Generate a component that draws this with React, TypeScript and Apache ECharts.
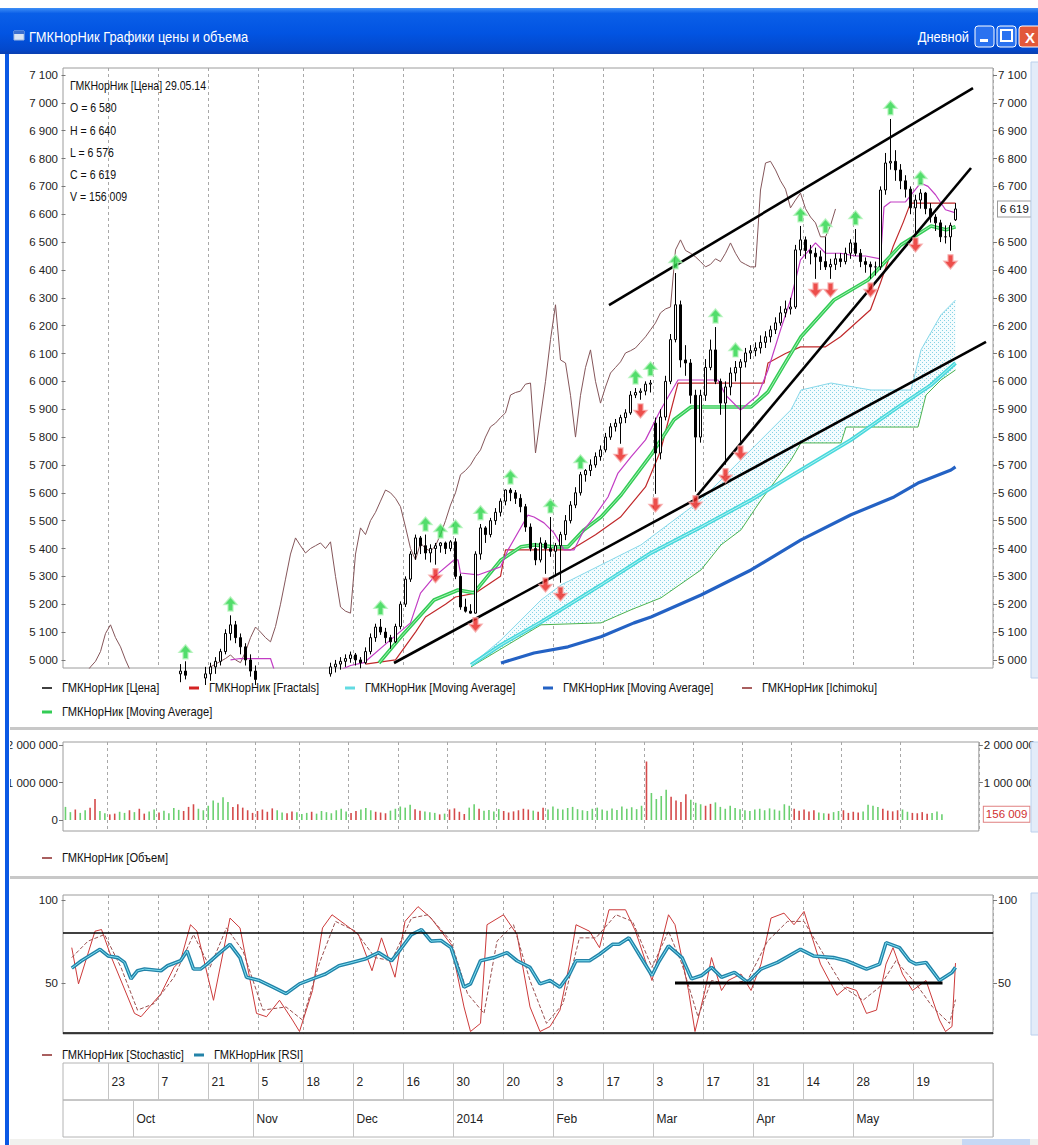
import React, { useEffect, useRef } from "react";
import * as echarts from "echarts";

const FONT = "'Liberation Sans', Arial, sans-serif";

// ---------- calendar ----------
const startDate = "2013-09-10";
const holidays = ["2013-11-04", "2013-12-31", "2014-01-01", "2014-01-02", "2014-01-07", "2014-01-08", "2014-05-01", "2014-05-02", "2014-05-09", "2014-06-12", "2014-06-13"];
const slotCount = 186;
const dayTickIdx = [9, 19, 29, 39, 48, 58, 68, 78, 88, 98, 108, 118, 128, 138, 148, 158, 170];
const monthTickIdx = [14, 38, 58, 78, 98, 118, 138, 158];
const monthNames = ["Oct", "Nov", "Dec", "2014", "Feb", "Mar", "Apr", "May"];

function buildDates() {
  const out = [];
  const d = new Date(startDate + "T00:00:00Z");
  while (out.length < slotCount) {
    const s = d.toISOString().slice(0, 10);
    const wd = d.getUTCDay();
    if (wd !== 0 && wd !== 6 && holidays.indexOf(s) < 0) out.push(s);
    d.setUTCDate(d.getUTCDate() + 1);
  }
  return out;
}

// ---------- price (OHLC) ----------
const opens = [4720,4745,4770,4750,4780,4830,4815,4760,4790,4820,4805,4780,4800,4840,4830,4860,4850,4820,4860,4890,4880,4910,4930,4950,4960,4945,4910,4900,4935,4950,4975,4995,5030,5095,5126,5080,5047,5000,4960,4930,4920,4880,4870,4840,4860,4890,4870,4840,4870,4900,4920,4910,4935,4950,4975,4985,4995,5005,5018,5000,4990,5030,5080,5118,5100,5080,5065,5120,5200,5290,5380,5438,5410,5384,5400,5410,5420,5400,5424,5300,5190,5175,5168,5380,5474,5450,5500,5530,5570,5610,5600,5580,5550,5477,5400,5359,5420,5400,5390,5410,5450,5500,5556,5600,5665,5680,5700,5730,5754,5800,5837,5850,5870,5887,5951,5960,5965,5990,5850,5743,5872,6000,6150,6275,6077,6066,5950,5800,5950,6050,6113,6000,5922,5980,6030,6050,6070,6102,6110,6120,6140,6160,6185,6210,6246,6260,6267,6472,6508,6470,6460,6447,6430,6411,6420,6440,6430,6460,6497,6460,6430,6420,6411,6411,6687,6784,6790,6759,6720,6690,6623,6651,6676,6620,6590,6569,6519,6519,6580];
const highs = [4760,4790,4800,4790,4850,4870,4840,4800,4840,4860,4830,4820,4850,4880,4870,4900,4880,4870,4910,4930,4920,4950,4970,4985,4995,4970,4940,4950,4975,4990,5010,5040,5110,5160,5140,5095,5060,5020,4980,4960,4950,4910,4900,4880,4900,4920,4890,4880,4910,4940,4950,4945,4965,4990,5000,5010,5020,5030,5025,5010,5045,5095,5130,5147,5115,5090,5130,5210,5300,5390,5450,5445,5450,5415,5420,5423,5425,5430,5437,5310,5220,5200,5390,5488,5480,5510,5545,5580,5612,5617,5610,5595,5560,5490,5420,5440,5430,5513,5420,5460,5520,5570,5620,5675,5685,5720,5745,5770,5815,5850,5865,5880,5900,5965,5976,5975,6000,6005,5870,5900,6020,6170,6389,6290,6130,6080,5970,5970,6080,6150,6195,6010,6000,6050,6073,6080,6120,6130,6140,6165,6180,6200,6230,6270,6290,6300,6490,6558,6520,6490,6480,6470,6518,6440,6460,6460,6480,6510,6547,6475,6445,6430,6430,6700,6820,6942,6830,6780,6740,6700,6670,6690,6680,6640,6600,6580,6560,6570,6640];
const lows = [4690,4720,4730,4700,4760,4800,4740,4730,4770,4790,4760,4750,4780,4810,4800,4830,4800,4800,4840,4860,4850,4880,4900,4920,4930,4890,4870,4880,4910,4925,4950,4980,5020,5070,5060,5020,4980,4940,4910,4890,4870,4840,4820,4810,4840,4850,4820,4810,4850,4880,4890,4880,4915,4940,4955,4965,4975,4990,4980,4970,4985,5020,5065,5090,5060,5040,5060,5110,5190,5280,5360,5380,5360,5350,5342,5385,5380,5390,5290,5180,5170,5166,5166,5360,5420,5440,5485,5515,5555,5570,5560,5530,5460,5390,5340,5350,5309,5370,5300,5277,5430,5490,5545,5590,5640,5660,5690,5715,5745,5790,5820,5776,5850,5880,5940,5934,5950,5960,5596,5720,5860,5990,6140,6050,6020,5920,5604,5780,5930,6040,5990,5880,5701,5950,6000,5783,6050,6080,6090,6100,6120,6140,6170,6200,6230,6240,6260,6450,6440,6420,6368,6400,6400,6368,6400,6410,6420,6440,6450,6410,6390,6368,6380,6400,6670,6760,6720,6690,6660,6600,6530,6620,6600,6570,6540,6500,6495,6469,6576];
const closes = [4745,4770,4750,4780,4830,4815,4760,4790,4820,4805,4780,4800,4840,4830,4860,4850,4820,4860,4890,4880,4910,4930,4950,4960,4945,4910,4900,4935,4950,4975,4995,5030,5095,5126,5080,5047,5000,4960,4930,4920,4880,4870,4840,4860,4890,4870,4840,4870,4900,4920,4910,4935,4950,4975,4985,4995,5005,5018,5000,4990,5030,5080,5118,5100,5080,5065,5120,5200,5290,5380,5438,5410,5384,5400,5410,5420,5400,5424,5300,5190,5175,5168,5380,5474,5450,5500,5530,5570,5610,5600,5580,5550,5477,5400,5359,5420,5400,5390,5410,5450,5500,5556,5600,5665,5680,5700,5730,5754,5800,5837,5850,5870,5887,5951,5960,5965,5990,5994,5743,5872,6000,6150,6275,6077,6066,5950,5800,5950,6050,6113,6000,5922,5980,6030,6050,6070,6102,6110,6120,6140,6160,6185,6210,6246,6260,6267,6472,6508,6470,6460,6447,6430,6411,6420,6440,6430,6460,6497,6460,6430,6420,6411,6411,6687,6784,6790,6759,6720,6690,6623,6651,6676,6620,6590,6569,6519,6519,6560,6619];
const volumes = [350000,210000,280000,190000,260000,330000,560000,240000,180000,150000,170000,220000,190000,260000,210000,300000,170000,230000,280000,200000,250000,180000,320000,270000,240000,350000,420000,300000,260000,380000,520000,460000,610000,480000,350000,420000,330000,260000,190000,240000,280000,220000,310000,260000,200000,180000,230000,210000,160000,190000,220000,170000,240000,210000,180000,260000,300000,230000,190000,240000,280000,320000,260000,220000,200000,180000,250000,300000,360000,330000,410000,290000,250000,230000,210000,190000,150000,170000,280000,310000,220000,160000,330000,420000,300000,250000,270000,230000,290000,240000,200000,230000,260000,300000,280000,250000,220000,330000,280000,360000,300000,280000,320000,350000,290000,260000,240000,300000,330000,280000,250000,310000,270000,360000,300000,340000,290000,380000,1560000,720000,560000,640000,810000,620000,520000,480000,690000,540000,460000,420000,380000,430000,470000,350000,300000,380000,320000,290000,260000,240000,280000,300000,260000,310000,280000,250000,420000,380000,300000,250000,280000,230000,260000,200000,180000,170000,210000,240000,260000,190000,220000,200000,230000,410000,380000,350000,300000,250000,230000,260000,280000,220000,190000,180000,210000,170000,190000,230000,156009];
const chikouShift = 24;

// fractals (marker positions)
const fractalUpIdx = [24, 33, 63, 72, 75, 78, 83, 89, 97, 103, 114, 117, 122, 130, 134, 147, 152, 158, 165, 171];
const fractalUpVal = [5029, 5201, 5187, 5488, 5463, 5477, 5528, 5657, 5553, 5711, 6016, 6045, 6429, 6235, 6113, 6598, 6558, 6587, 6982, 6730];
const fractalDnIdx = [74, 82, 96, 99, 111, 115, 118, 126, 132, 135, 150, 153, 161, 170, 177];
const fractalDnVal = [5302, 5126, 5269, 5237, 5736, 5894, 5556, 5564, 5661, 5743, 6328, 6328, 6328, 6490, 6429];

// indicator lines [barIndex, value]
const tenkan = [[33,5000],[35,5005],[41,5005],[42,4950],[52,4940],[57,4980],[59.7,4990],[65,5072],[69,5133],[71,5240],[73.7,5298],[77.7,5359],[78.5,5359],[79,5312],[82.5,5305],[87,5334],[88.5,5395],[92.5,5520],[93.7,5513],[95.7,5492],[97.7,5456],[99.7,5395],[101.7,5395],[103.7,5467],[105.7,5513],[108.5,5585],[110.5,5671],[113.1,5729],[116,5790],[119,5897],[122.5,6005],[130.5,6005],[132,5951],[135,5897],[138.5,5951],[140.5,6041],[143,6185],[145,6292],[147,6436],[150,6497],[152,6460],[155,6460],[158,6450],[160,6450],[163,6440],[163.7,6626],[165,6644],[168,6644],[171,6712],[172.5,6700],[174,6670],[176,6616],[178,6605]];
const kijun = [[60,4985],[66,5000],[70,5100],[72,5154],[76,5200],[78,5226],[82,5240],[87,5300],[88,5395],[101,5395],[106,5449],[111,5513],[116,5621],[119,5750],[122.5,5994],[139.7,5994],[140.5,6066],[144,6100],[147,6124],[152,6124],[155,6160],[161,6257],[163,6354],[165.5,6483],[167.5,6569],[169,6640],[178,6640]];
const cloudUpper = [[81.1,4982],[87.1,5072],[95.1,5215],[99.1,5269],[107.1,5341],[115.1,5413],[119.1,5467],[127.1,5574],[131.1,5646],[135.1,5718],[141.1,5826],[145.1,5898],[147.1,5969],[153.1,5994],[161.1,5969],[169.1,5969],[171.1,6113],[175.1,6239],[178,6292]];
const cloudLower = [[81.1,4975],[95.1,5126],[107.1,5133],[113.1,5180],[119.1,5223],[127.1,5323],[131.1,5413],[135.1,5467],[139.1,5574],[145.1,5718],[147.1,5779],[155.1,5779],[156.1,5836],[170.5,5836],[172.1,5951],[175.1,6005],[178,6041]];
const maGreen = [[62.7,4989],[67.1,5083],[73.7,5215],[78.5,5251],[81.7,5241],[87.1,5359],[91.1,5406],[93.7,5413],[97.7,5406],[100.5,5406],[103.7,5467],[107.1,5513],[111.1,5592],[117.1,5736],[121.7,5862],[125.1,5908],[137.1,5908],[140.5,5962],[143.7,6059],[147.1,6160],[153.7,6292],[160.5,6364],[167.1,6490],[173.1,6558],[176.1,6544],[178,6555]];
const maCyan = [[81.1,4982],[87.1,5054],[95.1,5136],[107.1,5269],[117.1,5384],[127.1,5477],[137.1,5574],[147.1,5682],[157.1,5790],[167.1,5915],[173.1,5987],[178,6066]];
const maBlue = [[87.1,4989],[93.7,5025],[100.5,5047],[107.1,5083],[113.7,5133],[117.1,5154],[127.1,5233],[137.1,5323],[147.1,5431],[157.1,5521],[165.7,5585],[170.5,5635],[177.1,5682],[178,5693]];
const trendUpper = [[108.7,6274],[181.5,7053]];
const trendSteep = [[126.1,5585],[181.1,6766]];
const trendLower = [[65.7,4989],[184.1,6142]];

// oscillators
const rsi = [[1.25,59],[3.2,63.4],[6.9,70.3],[8.5,66.3],[10.5,65.3],[11.8,62.4],[13.1,52.5],[14.4,57.4],[15.8,58.4],[19.1,57.4],[20.4,60.4],[23,63.4],[24.3,69.3],[25.6,58.4],[27,58.4],[28.3,61.4],[30.9,68.3],[32.9,73.3],[34.9,65.3],[36.2,53.5],[38.8,51.5],[41.5,47.5],[44.1,43.6],[46.8,49.5],[49.4,52.5],[52,55.4],[54.7,60.4],[57.3,62.4],[59.9,64.4],[62.6,68.3],[65.2,63.4],[66.5,68.3],[69.2,79.2],[71.2,82.2],[73.1,75.2],[75.1,75.6],[77.1,71.3],[79.7,47.5],[81,49.5],[83,63.4],[85.7,65.3],[88.3,68.3],[90.3,63.4],[92.9,59.4],[94.9,49.5],[96.9,51.5],[98.9,47.5],[100.8,55.4],[102.1,63.4],[104.8,63.4],[106.8,67.3],[109.4,73.3],[110.7,73.3],[112.7,77.2],[114.7,67.3],[117.3,54.5],[118.6,62.4],[120.6,72.3],[123.3,65.3],[125.2,52.5],[127.2,54.5],[129.2,59.4],[131.2,53.5],[133.8,56.4],[136.4,50.5],[139.1,58.4],[142.4,62.4],[147,70.3],[149.6,66.3],[153.6,65.3],[156.2,63.4],[160.2,58.4],[162.8,61.4],[164.1,74.3],[166.8,71.3],[168.8,63.4],[170.1,61.4],[172.1,62.4],[174.8,51.5],[177.3,56.4],[178,59.4]];
const stochK = [[1.25,71.3],[2.6,49.5],[5.9,81.2],[7.2,82.2],[9.2,65.3],[13.8,31.7],[15.1,29.7],[19.1,43.6],[21.7,59.4],[23,63.4],[25,85.1],[26.3,81.2],[29.6,39.6],[32.9,89.1],[34.9,83.2],[38.2,31.7],[40.2,29.7],[42.8,39.6],[45.4,27.7],[46.8,20.8],[49.4,45.5],[51.4,83.2],[53.3,91.1],[56,85.1],[58.6,79.2],[61.3,57.4],[63.2,77.2],[65.9,53.5],[67.9,87.1],[70.5,96],[73.1,89.1],[77.1,73.3],[79.7,35.6],[81,20.8],[83,25.7],[84.3,85.1],[87.6,91.1],[90.3,79.2],[92.9,35.6],[94.9,20.8],[96.9,23.8],[98.9,33.7],[100.8,61.4],[102.1,85.1],[104.8,81.2],[106.8,71.3],[108.7,94.1],[112,94.1],[114,81.2],[117.3,51.5],[120.6,91.1],[121.9,85.1],[124.6,45.5],[125.9,20.8],[127.9,45.5],[129.2,65.3],[131.2,45.5],[132.5,51.5],[135.1,55.4],[137.1,45.5],[139.1,61.4],[141.1,89.1],[143.7,92.1],[145.7,85.1],[147.7,93.1],[151,61.4],[154.3,42.6],[156.2,47.5],[158.2,45.5],[160.2,31.7],[162.2,33.7],[164.1,61.4],[165.5,71.3],[167.4,55.4],[169.4,45.5],[172.1,51.5],[174.8,27.7],[176,20.8],[177.3,23.8],[178,62]];
const stochD = [[1.25,65.3],[4.5,75.2],[7.8,79.2],[11.1,59.4],[14.4,33.7],[17.7,37.6],[21.7,53.5],[25.6,79.2],[28.9,59.4],[32.2,83.2],[35.5,69.3],[39.5,33.7],[44.1,35.6],[47.4,27.7],[50.7,61.4],[54,87.1],[58,81.2],[61.9,65.3],[65.2,63.4],[69.2,89.1],[72.5,91.1],[77.1,75.2],[80.4,43.6],[83.7,31.7],[86.3,75.2],[89.6,85.1],[92.9,51.5],[96.2,25.7],[99.5,37.6],[102.8,77.2],[106.1,77.2],[110.1,91.1],[113.4,87.1],[117.3,59.4],[120.6,81.2],[123.3,61.4],[126.5,29.7],[129.2,51.5],[132.5,49.5],[136.4,51.5],[140.4,75.2],[144.4,87.1],[147.7,87.1],[151.6,67.3],[155.6,47.5],[159.5,39.6],[162.8,47.5],[166.1,63.4],[170.1,49.5],[173.4,35.6],[176.8,25.7],[178,40]];
const rsiLevel50 = [[121.9,50],[175.4,50]];

const priceTicks = [5000,5100,5200,5300,5400,5500,5600,5700,5800,5900,6000,6100,6200,6300,6400,6500,6600,6700,6800,6900,7000,7100];
const priceTicksRight = [5000,5100,5200,5300,5400,5500,5600,5700,5800,5900,6000,6100,6200,6300,6400,6500,6700,6800,6900,7000,7100];
const volTicksLeft = [0, 1000000, 2000000];
const volTicksRight = [1000000, 2000000];
const oscTicks = [50, 100];
const lastInfo = ["ГМКНорНик [Цена] 29.05.14", "O = 6 580", "H = 6 640", "L = 6 576", "C = 6 619", "V = 156 009"];

const fmt = (v) => String(Math.round(v)).replace(/\B(?=(\d{3})+(?!\d))/g, " ");

const UP_ARROW = "path://M6 0 L12 7 L8.3 7 L8.3 13 L3.7 13 L3.7 7 L0 7 Z";
const DN_ARROW = "path://M3.7 0 L8.3 0 L8.3 6 L12 6 L6 13 L0 6 L3.7 6 Z";

function legendItem(x, y, color, width, text) {
  return [
    { type: "line", shape: { x1: x, y1: y, x2: x + 10, y2: y }, style: { stroke: color, lineWidth: width }, z: 50 },
    { type: "text", x: x + 20, y: y, scaleX: 0.93, style: { text, fill: "#111", font: `12px ${FONT}`, verticalAlign: "middle" }, z: 50 },
  ];
}

export default function App() {
  const ref = useRef(null);
  useEffect(() => {
    const chart = echarts.init(ref.current, null, { renderer: "svg" });
    const dates = buildDates();
    const daySet = new Set(dayTickIdx);
    const monthSet = new Set(monthTickIdx);

    const pc = document.createElement("canvas");
    pc.width = 4; pc.height = 4;
    const cx = pc.getContext("2d");
    cx.fillStyle = "#f4fcfe"; cx.fillRect(0, 0, 4, 4);
    cx.fillStyle = "#86d2e4"; cx.fillRect(0, 0, 1, 1); cx.fillRect(2, 2, 1, 1);
    const cloudFill = { image: pc, repeat: "repeat" };

    const candleData = closes.map((c, i) => [opens[i], c, lows[i], highs[i]]);
    const chikou = closes.slice(chikouShift);

    const gridBorder = "#9c9c9c";
    const dashed = { show: true, interval: (i) => daySet.has(i), lineStyle: { color: "#a8a8a8", type: [3, 3], width: 1 } };
    const catAxis = (gridIndex, extra) => Object.assign({
      type: "category", gridIndex, data: dates, boundaryGap: true,
      axisLine: { show: false }, axisTick: { show: false }, axisLabel: { show: false }, splitLine: dashed,
    }, extra || {});
    const valX = (gridIndex) => ({ type: "value", gridIndex, min: -0.5, max: slotCount - 0.5, show: false });
    const labelStyle = { color: "#222", fontFamily: FONT, fontSize: 11.5 };
    const yAx = (gridIndex, position, min, max, ticks) => ({
      type: "value", gridIndex, position, min, max,
      axisLine: { show: false },
      axisTick: { show: true, length: 4, customValues: ticks, lineStyle: { color: "#777" } },
      axisLabel: Object.assign({ customValues: ticks, formatter: fmt, margin: 5 }, labelStyle),
      splitLine: { show: false },
    });
    const lineS = (name, data, color, width, extra) => Object.assign({
      name, type: "line", xAxisIndex: 1, yAxisIndex: 0, data, symbol: "none", silent: true,
      lineStyle: { color, width }, z: 3,
    }, extra || {});
    const tagLabel = (text, color, border) => ({
      show: true, position: "end", distance: 5, formatter: () => text,
      color, fontFamily: FONT, fontSize: 11.5, backgroundColor: "#fff",
      borderColor: border, borderWidth: 1, padding: [2, 2, 1, 2],
    });

    const option = {
      animation: false,
      backgroundColor: "#ffffff",
      grid: [
        { left: 63, right: 45, top: 68, height: 600, show: true, borderColor: gridBorder, borderWidth: 1 },
        { left: 63, right: 45, top: 742, height: 89, show: true, borderColor: gridBorder, borderWidth: 1 },
        { left: 63, right: 45, top: 895, height: 139, show: true, borderColor: gridBorder, borderWidth: 1 },
        { left: 63, right: 45, top: 1063, height: 37, show: true, borderColor: "#b4b4b4", borderWidth: 1 },
        { left: 63, right: 45, top: 1100, height: 37, show: true, borderColor: "#b4b4b4", borderWidth: 1 },
      ],
      xAxis: [
        catAxis(0),
        valX(0),
        catAxis(1),
        catAxis(2),
        valX(2),
        catAxis(3, {
          splitLine: { show: true, interval: (i) => daySet.has(i), lineStyle: { color: "#c4c4c4", width: 1 } },
          axisLabel: Object.assign({
            show: true, inside: true, interval: (i) => daySet.has(i),
            formatter: (v) => String(parseInt(v.slice(8), 10)),
            align: "left", verticalAlign: "middle", margin: 18, padding: [0, 0, 0, 1],
          }, labelStyle, { fontSize: 12 }),
        }),
        catAxis(4, {
          splitLine: { show: true, interval: (i) => monthSet.has(i), lineStyle: { color: "#c4c4c4", width: 1 } },
          axisLabel: Object.assign({
            show: true, inside: true, interval: (i) => monthSet.has(i),
            formatter: (v, idx) => monthNames[monthTickIdx.indexOf(idx)] || "",
            align: "left", verticalAlign: "middle", margin: 18, padding: [0, 0, 0, 1],
          }, labelStyle, { fontSize: 12 }),
        }),
      ],
      yAxis: [
        yAx(0, "left", 4971, 7125, priceTicks),
        yAx(0, "right", 4971, 7125, priceTicksRight),
        yAx(1, "left", -293000, 2080000, volTicksLeft),
        yAx(1, "right", -293000, 2080000, volTicksRight),
        yAx(2, "left", 19.3, 103, oscTicks),
        yAx(2, "right", 19.3, 103, oscTicks),
        { type: "value", gridIndex: 3, min: 0, max: 1, show: false },
        { type: "value", gridIndex: 4, min: 0, max: 1, show: false },
      ],
      series: [
        {
          type: "custom", name: "cloud", xAxisIndex: 1, yAxisIndex: 0, data: [[100, 5500]], silent: true, z: 1,
          renderItem: (params, api) => {
            const pts = cloudUpper.map((d) => api.coord(d));
            for (let k = cloudLower.length - 1; k >= 0; k--) pts.push(api.coord(cloudLower[k]));
            return { type: "polygon", shape: { points: pts }, style: { fill: cloudFill, stroke: "none" } };
          },
        },
        lineS("cloudUpper", cloudUpper, "#86d8ea", 1),
        lineS("cloudLower", cloudLower, "#4cb24e", 1),
        lineS("maBlue", maBlue, "#2462c4", 3.2),
        lineS("maCyan", maCyan, "#48d8dc", 3.8),
        lineS("maCyanHi", maCyan, "#b4f2f2", 1),
        {
          name: "chikou", type: "line", xAxisIndex: 0, yAxisIndex: 0, data: chikou, symbol: "none", silent: true,
          lineStyle: { color: "#85565a", width: 1 }, z: 3,
        },
        lineS("kijun", kijun, "#c0282a", 1.2),
        lineS("maGreen", maGreen, "#33cc55", 3.6),
        lineS("maGreenHi", maGreen, "#a8f0b8", 1),
        lineS("tenkan", tenkan, "#c23cc4", 1.2),
        {
          name: "price", type: "candlestick", xAxisIndex: 0, yAxisIndex: 0, data: candleData, barWidth: 3, z: 4,
          itemStyle: { color: "#ffffff", color0: "#000000", borderColor: "#000000", borderColor0: "#000000", borderWidth: 1 },
          markLine: {
            silent: true, symbol: "none",
            lineStyle: { color: "rgba(0,0,0,0)", width: 0.01, type: "solid" },
            data: [{ yAxis: closes[closes.length - 1] }],
            label: tagLabel(fmt(closes[closes.length - 1]), "#111", "#9a9a9a"),
          },
        },
        lineS("trendUpper", trendUpper, "#000", 2.6, { z: 5 }),
        lineS("trendSteep", trendSteep, "#000", 2.6, { z: 5 }),
        lineS("trendLower", trendLower, "#000", 2.6, { z: 5 }),
        {
          name: "fractalUp", type: "scatter", xAxisIndex: 1, yAxisIndex: 0, z: 6, silent: true,
          data: fractalUpIdx.map((i, k) => [i, fractalUpVal[k]]),
          symbol: UP_ARROW, symbolSize: [13, 14],
          itemStyle: { color: "#27d446", borderColor: "#b0f2b8", borderWidth: 1.4 },
        },
        {
          name: "fractalDn", type: "scatter", xAxisIndex: 1, yAxisIndex: 0, z: 6, silent: true,
          data: fractalDnIdx.map((i, k) => [i, fractalDnVal[k]]),
          symbol: DN_ARROW, symbolSize: [13, 14],
          itemStyle: { color: "#e8221e", borderColor: "#f6a8a8", borderWidth: 1.4 },
        },
        {
          name: "volume", type: "bar", xAxisIndex: 2, yAxisIndex: 2, data: volumes, barWidth: 1.6, silent: true,
          itemStyle: { color: (p) => (closes[p.dataIndex] >= opens[p.dataIndex] ? "#6bd070" : "#d44a4a") },
          markLine: {
            silent: true, symbol: "none",
            lineStyle: { color: "rgba(0,0,0,0)", width: 0.01, type: "solid" },
            data: [{ yAxis: volumes[volumes.length - 1] }],
            label: tagLabel(fmt(volumes[volumes.length - 1]), "#d03030", "#e08080"),
          },
        },
        {
          name: "stochK", type: "line", xAxisIndex: 4, yAxisIndex: 4, data: stochK, symbol: "none", silent: true,
          lineStyle: { color: "#cc3a3a", width: 1 }, z: 3,
          markLine: {
            silent: true, symbol: "none", label: { show: false },
            lineStyle: { color: "#000", width: 1.6, type: "solid" },
            data: [{ yAxis: 80 }, { yAxis: 20 }],
          },
        },
        {
          name: "stochD", type: "line", xAxisIndex: 4, yAxisIndex: 4, data: stochD, symbol: "none", silent: true,
          lineStyle: { color: "#9a5050", width: 1, type: [4, 2] }, z: 3,
        },
        {
          name: "rsi", type: "line", xAxisIndex: 4, yAxisIndex: 4, data: rsi, symbol: "none", silent: true,
          lineStyle: { color: "#2383a8", width: 3.6 }, z: 4,
        },
        {
          name: "rsiHi", type: "line", xAxisIndex: 4, yAxisIndex: 4, data: rsi, symbol: "none", silent: true,
          lineStyle: { color: "#7fe0f2", width: 1 }, z: 4,
        },
        {
          name: "level50", type: "line", xAxisIndex: 4, yAxisIndex: 4, data: rsiLevel50, symbol: "none", silent: true,
          lineStyle: { color: "#000", width: 3 }, z: 5,
        },
      ],
      graphic: [
        {
          type: "rect", shape: { x: 0, y: 8, width: 1038, height: 46 }, z: 100,
          style: {
            fill: new echarts.graphic.LinearGradient(0, 0, 0, 1, [
              { offset: 0, color: "#3d8ef6" }, { offset: 0.12, color: "#0a5fe8" },
              { offset: 0.55, color: "#0254e2" }, { offset: 0.9, color: "#0348cc" }, { offset: 1, color: "#0b3fb0" },
            ]),
          },
        },
        { type: "rect", shape: { x: 14, y: 31, width: 10, height: 9 }, style: { fill: "#d8e4f4", stroke: "#9fb8e0" }, z: 101 },
        { type: "rect", shape: { x: 14, y: 31, width: 10, height: 3 }, style: { fill: "#3a6fd0" }, z: 101 },
        { type: "text", x: 29, y: 37, scaleX: 0.92, style: { text: "ГМКНорНик Графики цены и объема", fill: "#ffffff", font: `14px ${FONT}`, verticalAlign: "middle" }, z: 101 },
        { type: "text", x: 969, y: 37, scaleX: 0.92, style: { text: "Дневной", fill: "#ffffff", font: `14px ${FONT}`, verticalAlign: "middle", align: "right" }, z: 101 },
        { type: "rect", shape: { x: 975, y: 26, width: 19, height: 21, r: 3 }, style: { fill: "#2a72f0", stroke: "#ffffff", lineWidth: 1 }, z: 101 },
        { type: "rect", shape: { x: 980, y: 39, width: 8, height: 3 }, style: { fill: "#ffffff" }, z: 102 },
        { type: "rect", shape: { x: 997, y: 26, width: 19, height: 21, r: 3 }, style: { fill: "#2a72f0", stroke: "#ffffff", lineWidth: 1 }, z: 101 },
        { type: "rect", shape: { x: 1001, y: 30, width: 11, height: 11 }, style: { fill: "none", stroke: "#ffffff", lineWidth: 2 }, z: 102 },
        { type: "rect", shape: { x: 1019, y: 26, width: 22, height: 21, r: 3 }, style: { fill: "#e2583a", stroke: "#ffffff", lineWidth: 1 }, z: 101 },
        { type: "text", x: 1030, y: 37, style: { text: "X", fill: "#ffffff", font: `bold 15px ${FONT}`, align: "center", verticalAlign: "middle" }, z: 102 },
        { type: "rect", shape: { x: 0, y: 54, width: 10, height: 1091 }, style: { fill: "#ffffff" }, z: 99 },
        { type: "rect", shape: { x: 5, y: 54, width: 4, height: 1091 }, style: { fill: "#0a58e4" }, z: 100 },
        { type: "rect", shape: { x: 9, y: 727, width: 1029, height: 3 }, style: { fill: "#c8c8c8" }, z: 20 },
        { type: "rect", shape: { x: 9, y: 876, width: 1029, height: 3 }, style: { fill: "#c8c8c8" }, z: 20 },
        { type: "rect", shape: { x: 1031, y: 62, width: 8, height: 616 }, style: { fill: "#e3ecf9", stroke: "#bcd0ec" }, z: 20 },
        { type: "rect", shape: { x: 1031, y: 742, width: 8, height: 90 }, style: { fill: "#e3ecf9", stroke: "#bcd0ec" }, z: 20 },
        { type: "rect", shape: { x: 1031, y: 893, width: 8, height: 142 }, style: { fill: "#e3ecf9", stroke: "#bcd0ec" }, z: 20 },
        { type: "rect", shape: { x: 9, y: 1139, width: 1029, height: 6 }, style: { fill: "#f1f1ee" }, z: 20 },
        { type: "rect", shape: { x: 962, y: 1139, width: 68, height: 6 }, style: { fill: "#c6d8f4" }, z: 21 },
        ...legendItem(42, 688, "#000000", 1.5, "ГМКНорНик [Цена]"),
        ...legendItem(189, 688, "#d42222", 3, "ГМКНорНик [Fractals]"),
        ...legendItem(345, 688, "#62dbe2", 3, "ГМКНорНик [Moving Average]"),
        ...legendItem(543, 688, "#2462c4", 3, "ГМКНорНик [Moving Average]"),
        ...legendItem(742, 688, "#8c2a2a", 1.5, "ГМКНорНик [Ichimoku]"),
        ...legendItem(42, 712, "#33cc55", 3, "ГМКНорНик [Moving Average]"),
        ...legendItem(42, 858, "#8c2a2a", 1.5, "ГМКНорНик [Объем]"),
        ...legendItem(42, 1055, "#8c2a2a", 1.5, "ГМКНорНик [Stochastic]"),
        ...legendItem(194, 1055, "#2383a8", 3, "ГМКНорНик [RSI]"),
        ...lastInfo.map((t, k) => ({
          type: "text", x: 70, y: 86 + k * 22.2, z: 50, scaleX: 0.88,
          style: { text: t, fill: "#111", font: `12px ${FONT}`, verticalAlign: "middle" },
        })),
      ],
    };
    chart.setOption(option);
    return () => chart.dispose();
  }, []);
  return <div ref={ref} style={{ position: "absolute", left: 0, top: 0, width: 1038, height: 1145 }} />;
}
